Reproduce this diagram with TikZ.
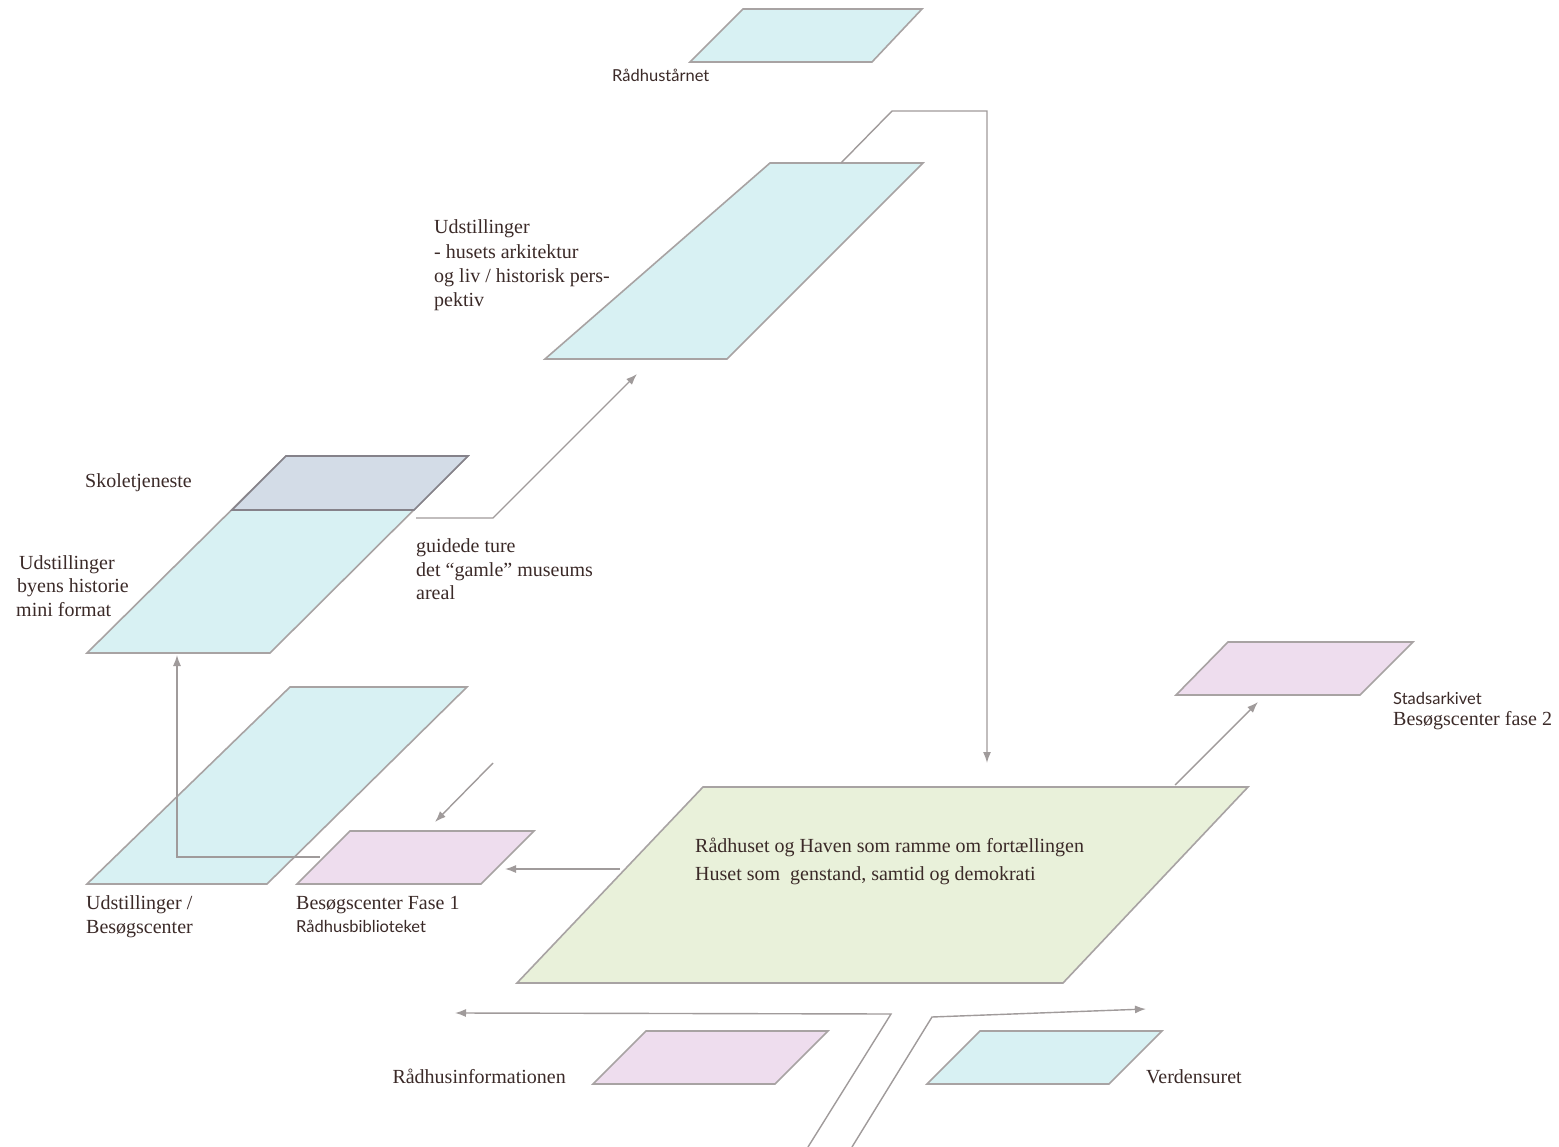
\documentclass[tikz,border=0pt]{standalone}
\usepackage{fontspec}
\setmainfont{Liberation Serif}
\newfontfamily\gill{Lato}
\usetikzlibrary{arrows.meta}
\definecolor{edgec}{HTML}{A8A3A3}
\definecolor{arrc}{HTML}{A09B9B}
\definecolor{cyanf}{HTML}{D8F1F3}
\definecolor{pinkf}{HTML}{EEDDEE}
\definecolor{greenf}{HTML}{E9F1DA}
\definecolor{bandf}{HTML}{D3DCE7}
\definecolor{bande}{HTML}{85828A}
\definecolor{txt}{HTML}{3B2A28}
\tikzset{
  pbox/.style={draw=edgec, line width=1.6pt, line join=miter},
  conn/.style={draw=arrc, line width=1.4pt, line join=miter},
  tipped/.style={-{Latex[length=11pt,width=8pt]}},
  lbl/.style={inner sep=0pt, text=txt, font=\fontsize{20}{24}\selectfont, anchor=base west},
  slbl/.style={inner sep=0pt, text=txt, font=\gill\fontsize{16.5}{19}\selectfont, anchor=base west}
}
\begin{document}
\begin{tikzpicture}[x=1pt,y=-1pt]
\useasboundingbox (0,0) rectangle (1559,1147);
\fill[white] (0,0) rectangle (1559,1147);

% boxes
\draw[pbox, fill=cyanf] (743,9) -- (922,9) -- (872,62) -- (690,62) -- cycle;
\draw[pbox, fill=cyanf] (770,163) -- (923,163) -- (727,359) -- (545,359) -- cycle;
\draw[pbox, fill=cyanf] (286,456) -- (468,456) -- (270,653) -- (87,653) -- cycle;
\draw[draw=bande, line width=1.6pt, fill=bandf] (286,456) -- (468,456) -- (414,510) -- (232,510) -- cycle;
\draw[pbox, fill=cyanf] (290,687) -- (467,687) -- (267,884) -- (87,884) -- cycle;
\draw[pbox, fill=pinkf] (350,831) -- (534,831) -- (481,884) -- (297,884) -- cycle;
\draw[pbox, fill=greenf] (703,787) -- (1248,787) -- (1063,983) -- (517,983) -- cycle;
\draw[pbox, fill=pinkf] (1228,642) -- (1413,642) -- (1360,695) -- (1176,695) -- cycle;
\draw[pbox, fill=pinkf] (646,1031) -- (828,1031) -- (775,1084) -- (593,1084) -- cycle;
\draw[pbox, fill=cyanf] (980,1031) -- (1162,1031) -- (1109,1084) -- (927,1084) -- cycle;

% connector end points
\coordinate (tA) at (841,163);
\coordinate (tB) at (892,111);
\coordinate (tC) at (987,111);
\coordinate (tD) at (987,763);
\coordinate (gA) at (416,518);
\coordinate (gB) at (493,518);
\coordinate (gC) at (637,374);
\coordinate (bA) at (320,857);
\coordinate (bB) at (177,857);
\coordinate (bC) at (177,655);
\coordinate (sA) at (493,763);
\coordinate (sB) at (435,822);
\coordinate (hA) at (620,869);
\coordinate (hB) at (505,869);
\coordinate (kA) at (1175,785);
\coordinate (kB) at (1258,702);
\coordinate (lA) at (808,1147);
\coordinate (lB) at (891,1014);
\coordinate (lC) at (455,1013);
\coordinate (rA) at (852,1147);
\coordinate (rB) at (932,1017);
\coordinate (rC) at (1146,1009);

\draw[conn, tipped] (tA) -- (tB) -- (tC) -- (tD);
\draw[conn, tipped] (gA) -- (gB) -- (gC);
\draw[conn, tipped] (bA) -- (bB) -- (bC);
\draw[conn, tipped] (sA) -- (sB);
\draw[conn, tipped] (hA) -- (hB);
\draw[conn, tipped] (kA) -- (kB);
\draw[conn, tipped] (lA) -- (lB) -- (lC);
\draw[conn, tipped] (rA) -- (rB) -- (rC);

% labels
\node[slbl] (t1) at (612,82) {Rådhustårnet};
\node[lbl] (u1) at (434,234) {Udstillinger};
\node[lbl] (u2) at (434,259) {- husets arkitektur};
\node[lbl] (u3) at (434,283) {og liv / historisk pers-};
\node[lbl] (u4) at (434,307) {pektiv};
\node[lbl] (sk) at (85,487) {Skoletjeneste};
\node[lbl] (b1) at (19,569) {Udstillinger};
\node[lbl] (b2) at (17,592) {byens historie};
\node[lbl] (b3) at (16,616) {mini format};
\node[lbl] (g1) at (416,552) {guidede ture};
\node[lbl] (g2) at (416,576) {det “gamle” museums};
\node[lbl] (g3) at (416,599) {areal};
\node[lbl] (v1) at (86,909) {Udstillinger /};
\node[lbl] (v2) at (86,933) {Besøgscenter};
\node[lbl] (f1) at (296,909) {Besøgscenter Fase 1};
\node[slbl] (f2) at (296,932) {Rådhusbiblioteket};
\node[lbl] (h1) at (695,852) {Rådhuset og Haven som ramme om fortællingen};
\node[lbl] (h2) at (695,880) {Huset som\ \ genstand, samtid og demokrati};
\node[slbl] (a1) at (1393,704) {Stadsarkivet};
\node[lbl] (a2) at (1393,725) {Besøgscenter fase 2};
\node[lbl, anchor=base east] (ri) at (566,1083) {Rådhusinformationen};
\node[lbl] (vu) at (1146,1083) {Verdensuret};
\end{tikzpicture}
\end{document}
